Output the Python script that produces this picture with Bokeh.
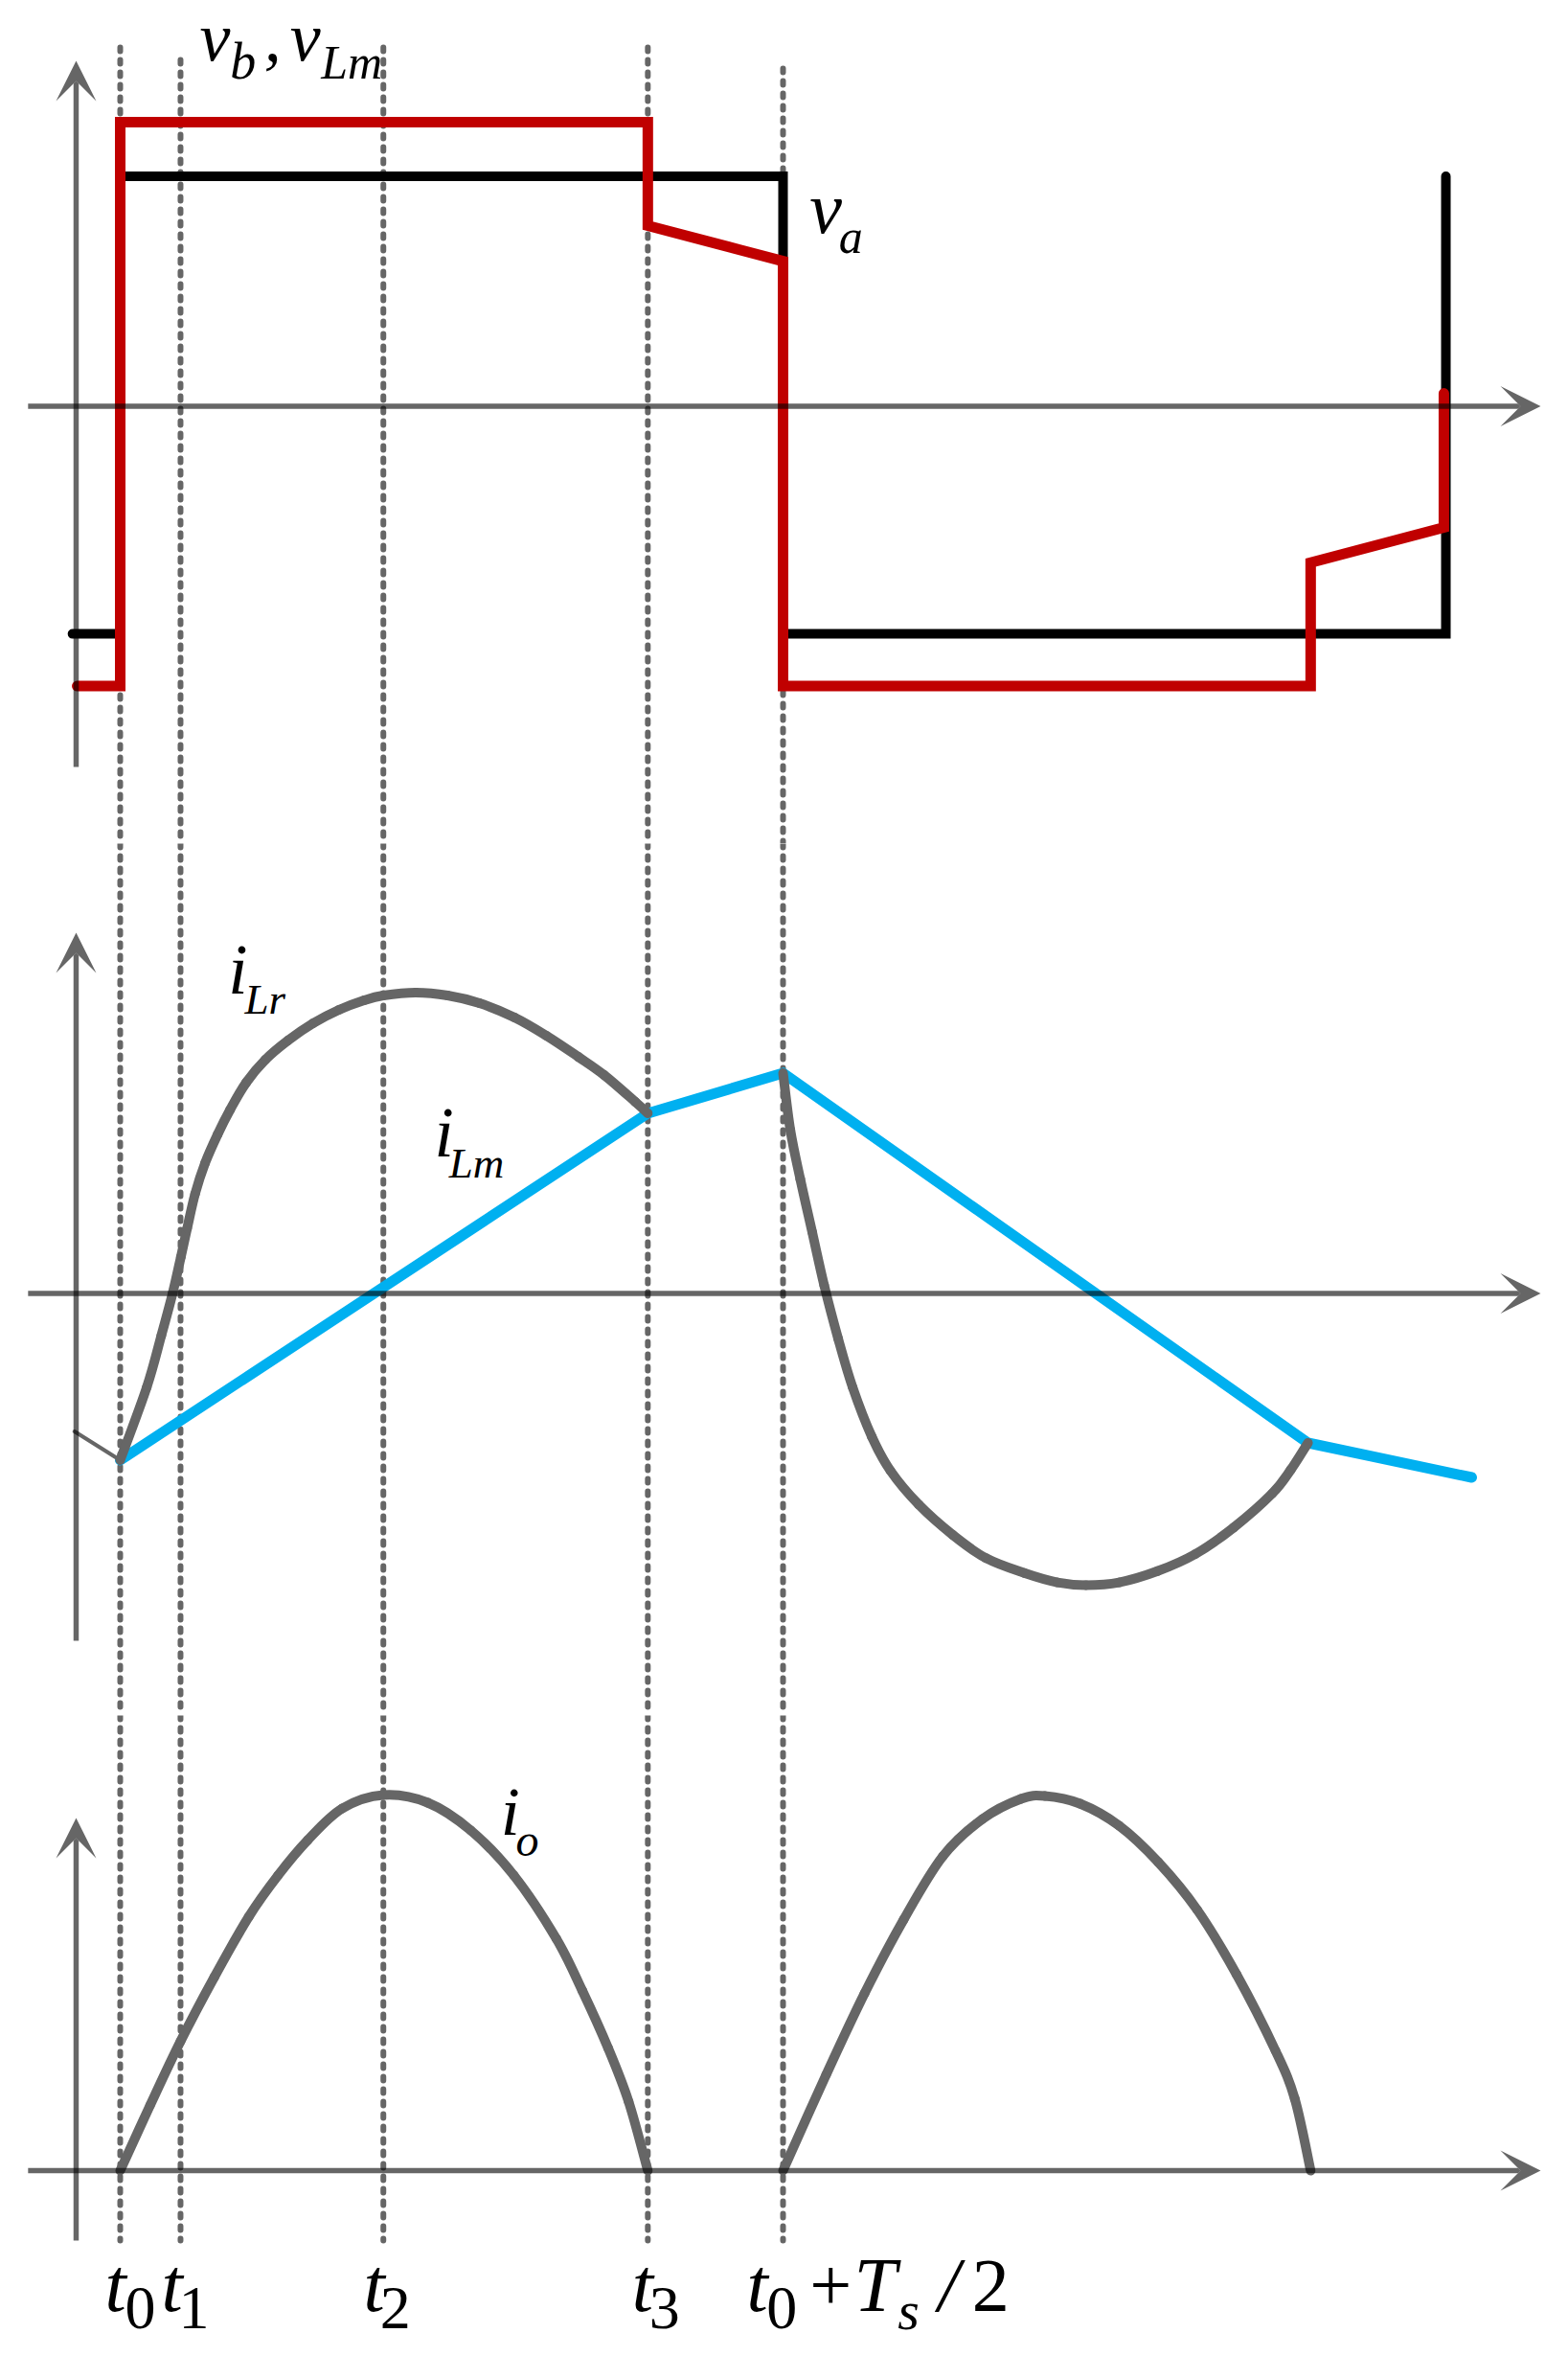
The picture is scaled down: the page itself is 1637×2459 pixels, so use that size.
from bokeh.plotting import figure
from bokeh.layouts import column
from bokeh.models import Range1d, Arrow, VeeHead, ColumnDataSource
from bokeh.core.properties import value, field
from bokeh.embed import file_html
from bokeh.resources import INLINE

# ---------------- data (time in units of Ts/2, t0 = 0) ----------------
event_labels = ["t0", "t1", "t2", "t3", "t0+Ts/2"]
event_t = [0.0, 0.091, 0.397, 0.796, 1.0]

# top panel: primary voltage v_a (black) and v_b / v_Lm (red)
va_t = [-0.072, 0.0, 0.0, 1.0, 1.0, 2.0, 2.0]
va_v = [-0.99, -0.99, 1.0, 1.0, -0.99, -0.99, 1.0]
vb_t = [-0.065, 0.0, 0.0, 0.796, 0.796, 1.0, 1.0, 1.796, 1.796, 1.997, 1.997]
vb_v = [-1.217, -1.217, 1.235, 1.235, 0.785, 0.631, -1.217, -1.217, -0.68, -0.527, 0.056]

# middle panel: magnetizing current i_Lm (blue) and resonant current i_Lr (gray)
iLm_t = [0.0, 0.796, 1.0, 1.792, 2.039]
iLm_v = [-0.87, 0.94, 1.15, -0.78, -0.96]
iLr_pre_t = [-0.069, 0.0]
iLr_pre_v = [-0.72, -0.87]
iLr1_t = [0.0, 0.040, 0.062, 0.079, 0.0915, 0.101, 0.113, 0.128, 0.147, 0.166, 0.190,
          0.219, 0.253, 0.291, 0.330, 0.368, 0.397, 0.446, 0.494, 0.542, 0.595,
          0.643, 0.691, 0.730, 0.777, 0.796]
iLr1_v = [-0.87, -0.49, -0.22, 0.0, 0.19, 0.34, 0.52, 0.68, 0.83, 0.96, 1.10,
          1.22, 1.32, 1.41, 1.48, 1.53, 1.555, 1.57, 1.555, 1.515, 1.44,
          1.345, 1.235, 1.14, 1.0, 0.94]
iLr2_t = [1.0, 1.011, 1.026, 1.044, 1.062, 1.083, 1.105, 1.134, 1.162, 1.205, 1.256,
          1.306, 1.364, 1.414, 1.457, 1.507, 1.565, 1.622, 1.680, 1.738, 1.766, 1.792]
iLr2_v = [1.15, 0.853, 0.597, 0.32, 0.043, -0.234, -0.49, -0.748, -0.925, -1.103, -1.26,
          -1.381, -1.459, -1.508, -1.522, -1.508, -1.449, -1.36, -1.221, -1.044, -0.92, -0.78]

# bottom panel: output current i_o
io1_t = [0.0, 0.045, 0.091, 0.142, 0.194, 0.238, 0.283, 0.335, 0.397, 0.464,
         0.529, 0.594, 0.658, 0.697, 0.736, 0.767, 0.796]
io1_v = [0.0, 0.34, 0.675, 1.01, 1.325, 1.54, 1.725, 1.89, 1.96, 1.92,
         1.775, 1.54, 1.21, 0.94, 0.64, 0.36, 0.0]
io2_t = [1.0, 1.065, 1.123, 1.182, 1.241, 1.301, 1.359, 1.395, 1.448, 1.507,
         1.566, 1.625, 1.684, 1.743, 1.772, 1.796]
io2_v = [0.0, 0.50, 0.925, 1.31, 1.64, 1.835, 1.94, 1.955, 1.915, 1.80,
         1.61, 1.36, 1.025, 0.625, 0.375, 0.0]

# ---------------- layout ----------------
W = 1636
PX_T = 692.0
T_MIN = -125 / PX_T
T_MAX = T_MIN + W / PX_T

FONT = value("Liberation Serif")
GRAY = dict(line_color="black", line_alpha=0.6)
CURVE = "#666666"
BASE_SHIFT = 0.38   # baseline correction, in em


def make_fig(h, top_off, unit):
    y_end = top_off / unit
    y_start = y_end - h / unit
    p = figure(width=W, height=h, x_range=Range1d(T_MIN, T_MAX),
               y_range=Range1d(y_start, y_end), output_backend="svg",
               toolbar_location=None, x_axis_location=None, y_axis_location=None,
               min_border=0, min_border_left=0, min_border_right=0,
               min_border_top=0, min_border_bottom=0,
               outline_line_color=None, background_fill_color="white",
               border_fill_color="white")
    p.grid.visible = False
    return p, y_start, y_end


def axes(p, y_lo, y_hi):
    head = dict(size=42, fill_color="black", fill_alpha=0.6, line_color=None)
    p.add_layout(Arrow(end=VeeHead(**head), x_start=-0.0665, y_start=y_lo,
                       x_end=-0.0665, y_end=y_hi, line_width=5.5, **GRAY))
    p.add_layout(Arrow(end=VeeHead(**head), x_start=-0.139, y_start=0.0,
                       x_end=2.143, y_end=0.0, line_width=5.5, **GRAY))


def dashes(p, tops, bots):
    p.segment(x0=event_t, y0=tops, x1=event_t, y1=bots, line_width=6,
              line_dash="4 9", line_cap="round", **GRAY)


def smooth(p, xs, ys, **kw):
    # Catmull-Rom curve through the read points, drawn as bezier segments
    n = len(xs)
    X = [xs[0]] + list(xs) + [xs[-1]]
    Y = [ys[0]] + list(ys) + [ys[-1]]
    d = dict(x0=[], y0=[], x1=[], y1=[], cx0=[], cy0=[], cx1=[], cy1=[])
    for i in range(1, n):
        d["x0"].append(X[i]); d["y0"].append(Y[i])
        d["x1"].append(X[i + 1]); d["y1"].append(Y[i + 1])
        d["cx0"].append(X[i] + (X[i + 1] - X[i - 1]) / 6.0)
        d["cy0"].append(Y[i] + (Y[i + 1] - Y[i - 1]) / 6.0)
        d["cx1"].append(X[i + 1] - (X[i + 2] - X[i]) / 6.0)
        d["cy1"].append(Y[i + 1] - (Y[i + 2] - Y[i]) / 6.0)
    p.bezier(source=ColumnDataSource(d), x0="x0", y0="y0", x1="x1", y1="y1",
             cx0="cx0", cy0="cy0", cx1="cx1", cy1="cy1", **kw)


def labels(p, unit, texts, xs, ys, sizes, style):
    ys2 = [y + BASE_SHIFT * s / unit for y, s in zip(ys, sizes)]
    src = ColumnDataSource(dict(x=xs, y=ys2, text=texts,
                                size=["%dpx" % s for s in sizes]))
    p.text(x="x", y="y", text="text", source=src, text_font=FONT,
           text_font_style=style, text_font_size=field("size"),
           text_color="black", text_align="left", text_baseline="alphabetic")


# ---- top panel ----
U1 = 240.0
p1, a1, b1 = make_fig(880, 423.5, U1)
dashes(p1, [1.56, 1.506, 1.56, 1.56, 1.469], [a1] * 5)
axes(p1, -1.569, 1.502)
p1.line(va_t, va_v, line_color="black", line_width=10, line_join="miter", line_cap="round")
p1.line(vb_t, vb_v, line_color="#C00000", line_width=11, line_join="miter", line_cap="round")
labels(p1, U1, ["v", ",", "v"], [0.120, 0.217, 0.256],
       [1.49, 1.49, 1.49], [72, 72, 72], "italic")
labels(p1, U1, ["v"], [1.040], [0.744], [76], "italic")
labels(p1, U1, ["b", "Lm", "a"], [0.166, 0.303, 1.084], [1.415, 1.415, 0.660],
       [54, 50, 50], "italic")

# ---- middle panel ----
U2 = 200.0
p2, a2, b2 = make_fig(910, 469.5, U2)
dashes(p2, [b2] * 5, [a2] * 5)
axes(p2, -1.8125, 1.8825)
p2.line(iLm_t, iLm_v, line_color="#00B0F0", line_width=11, line_join="miter", line_cap="round")
p2.line(iLr_pre_t, iLr_pre_v, line_width=4, line_cap="round", line_color=CURVE)
smooth(p2, iLr1_t, iLr1_v, line_width=10, line_cap="round", line_color=CURVE)
smooth(p2, iLr2_t, iLr2_v, line_width=10, line_cap="round", line_color=CURVE)
labels(p2, U2, ["i", "i"], [0.163, 0.474], [1.5475, 0.6975], [73, 73], "italic")
labels(p2, U2, ["Lr", "Lm"], [0.188, 0.496], [1.4475, 0.594], [45, 45], "italic")

# ---- bottom panel ----
U3 = 200.0
p3, a3, b3 = make_fig(668, 475.0, U3)
dashes(p3, [b3] * 5, [-0.365] * 5)
axes(p3, -0.365, 1.84)
smooth(p3, io1_t, io1_v, line_width=10, line_cap="round", line_color=CURVE)
smooth(p3, io2_t, io2_v, line_width=10, line_cap="round", line_color=CURVE)
labels(p3, U3, ["i"], [0.574], [1.735], [72], "italic")
labels(p3, U3, ["o"], [0.597], [1.635], [48], "italic")
# time labels
labels(p3, U3, ["t", "t", "t", "t", "t", "T", "/"],
       [-0.023, 0.062, 0.367, 0.772, 0.945, 1.107, 1.234],
       [-0.75] * 7, [80] * 7, "italic")
labels(p3, U3, ["s"], [1.173], [-0.84], [58], "italic")
labels(p3, U3, ["0", "1", "2", "3", "0"], [0.0072, 0.088, 0.392, 0.798, 0.975],
       [-0.84] * 5, [64] * 5, "normal")
labels(p3, U3, ["+", "2"], [1.040, 1.285], [-0.75, -0.75], [78, 78], "normal")

layout = column(p1, p2, p3, spacing=0)
open("out.html", "w").write(file_html(layout, INLINE))
